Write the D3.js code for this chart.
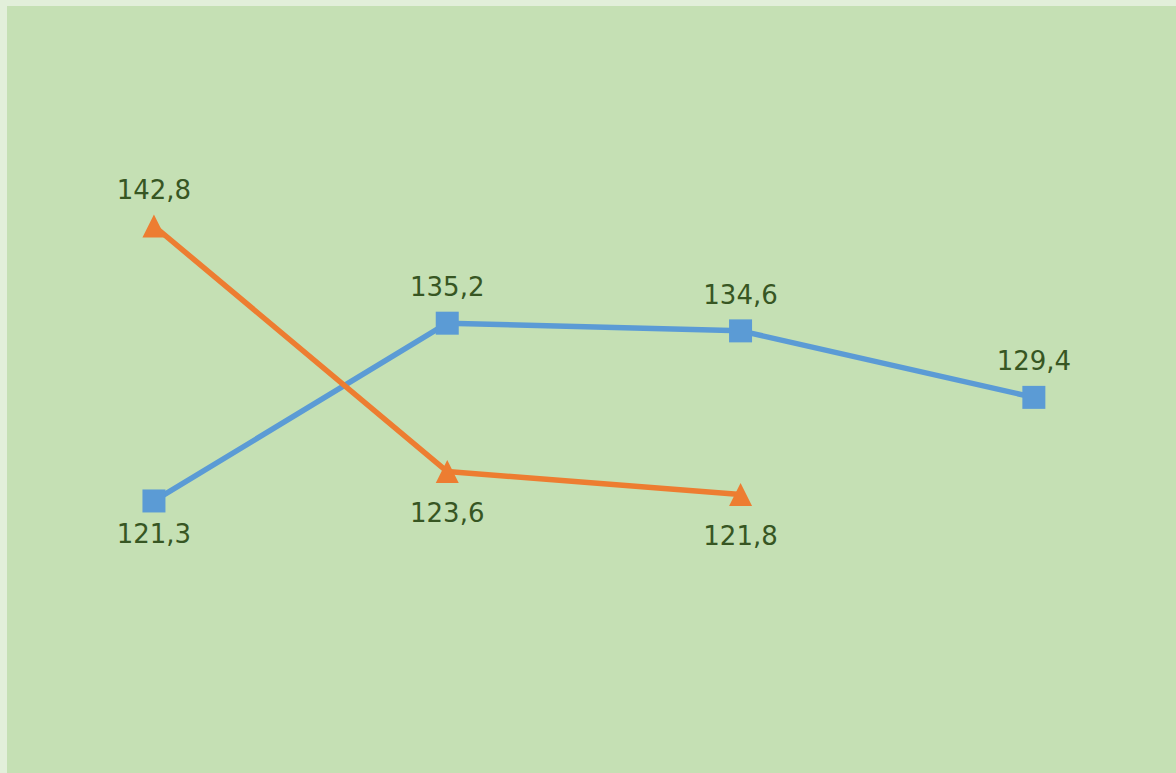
<!DOCTYPE html>
<html>
<head>
<meta charset="utf-8">
<script src="https://cdn.jsdelivr.net/npm/d3@7"></script>
<style>
  html, body { margin: 0; padding: 0; background: #e2efda; }
  svg { display: block; }
  .lbl { font-family: "DejaVu Sans", Verdana, sans-serif; font-size: 26px; fill: #375623; text-anchor: middle; }
</style>
</head>
<body>
<svg id="chart"></svg>
<script>
/* ─── Data ───────────────────────────────────────────────────────────────── */

const CATEGORIES = ['A', 'B', 'C', 'D'];
const BLUE_VALUES = [121.3, 135.2, 134.6, 129.4];
const ORANGE_VALUES = [142.8, 123.6, 121.8];
const BLUE_LABEL_POS = ['below', 'above', 'above', 'above'];
const ORANGE_LABEL_POS = ['above', 'below', 'below'];

/* ─── Layout ─────────────────────────────────────────────────────────────── */

const W = 1176, H = 773;
const svg = d3.select('#chart').attr('width', W).attr('height', H);

svg.append('rect')
  .attr('x', 7).attr('y', 6)
  .attr('width', W - 7).attr('height', H - 6)
  .attr('fill', '#c5e0b4');

const x = d3.scalePoint().domain(CATEGORIES).range([7.3, 1180.5]).padding(0.5);
const y = d3.scaleLinear().domain([100, 160]).range([773.4, 6]);

const line = d3.line().x(d => x(d.cat)).y(d => y(d.v));

function toPoints(values, pos) {
  return values.map((v, i) => ({ cat: CATEGORIES[i], v, pos: pos[i] }));
}

function drawSeries(points, color, shape, belowOffset) {
  const g = svg.append('g');
  g.append('path')
    .datum(points)
    .attr('d', line)
    .attr('fill', 'none')
    .attr('stroke', color)
    .attr('stroke-width', 5.5)
    .attr('stroke-linejoin', 'round');

  const s = 11.5;
  g.selectAll('path.marker')
    .data(points)
    .join('path')
    .attr('class', 'marker')
    .attr('fill', color)
    .attr('d', d => {
      const cx = x(d.cat), cy = y(d.v);
      if (shape === 'square') {
        return `M${cx - s},${cy - s}h${2 * s}v${2 * s}h${-2 * s}Z`;
      }
      return `M${cx},${cy - s}L${cx + s},${cy + s}L${cx - s},${cy + s}Z`;
    });

  g.selectAll('text')
    .data(points)
    .join('text')
    .attr('class', 'lbl')
    .attr('x', d => x(d.cat))
    .attr('y', d => y(d.v) + (d.pos === 'above' ? -27 : belowOffset))
    .text(d => d.v.toFixed(1).replace('.', ','));
}

drawSeries(toPoints(BLUE_VALUES, BLUE_LABEL_POS), '#5b9bd5', 'square', 42);
drawSeries(toPoints(ORANGE_VALUES, ORANGE_LABEL_POS), '#ed7d31', 'triangle', 50);
</script>
</body>
</html>
